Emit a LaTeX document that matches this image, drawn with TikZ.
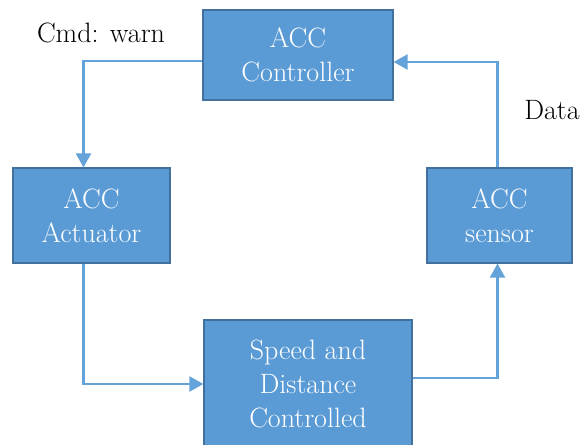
\documentclass[tikz,border=0pt]{standalone}
\usepackage{xcolor}
\usepackage{tikz}
\usetikzlibrary{arrows.meta, positioning}
\definecolor{accblue}{RGB}{91,155,213}
\definecolor{accedge}{RGB}{65,113,156}
\definecolor{accline}{RGB}{100,162,218}

\tikzset{
    block/.style={draw=accedge, line width=1.2pt, fill=accblue, text=white, align=center,
        font=\fontsize{28}{34}\selectfont, inner sep=0pt},
    flow/.style={draw=accline, line width=2.2pt, -{Triangle[length=14pt,width=15pt]}},
    tag/.style={font=\fontsize{28}{34}\selectfont, inner sep=0pt}
}

\begin{document}
\begin{tikzpicture}[x=1pt, y=-1pt]
    \useasboundingbox (0,0) rectangle (583,444);
    \begin{scope}
    \clip (0,0) rectangle (583,444);
    \node[block, minimum width=190pt, minimum height=90pt] (ctrl) at (298,55) {ACC\\Controller};
    \node[block, minimum width=157pt, minimum height=95pt] (act) at (91.5,215.5) {ACC\\Actuator};
    \node[block, minimum width=145pt, minimum height=95pt] (sens) at (499.5,215.5) {ACC\\sensor};
    \node[block, minimum width=208pt, minimum height=128pt] (speed) at (308,384) {Speed and\\Distance\\Controlled};
    \end{scope}

    % labels
    \node[tag] (cmd) at (101,33) {Cmd: warn};
    \node[tag] (data) at (552,110) {Data};

    % loop
    \draw[flow] ([yshift=-6pt]ctrl.west) -| ([xshift=-8pt]act.north);
    \draw[flow] ([xshift=-8pt]act.south) |- (speed.west);
    \draw[flow] ([yshift=6pt]speed.east) -| ([xshift=-2pt]sens.south);
    \draw[flow] ([xshift=-2pt]sens.north) |- ([yshift=-7pt]ctrl.east);
\end{tikzpicture}
\end{document}
